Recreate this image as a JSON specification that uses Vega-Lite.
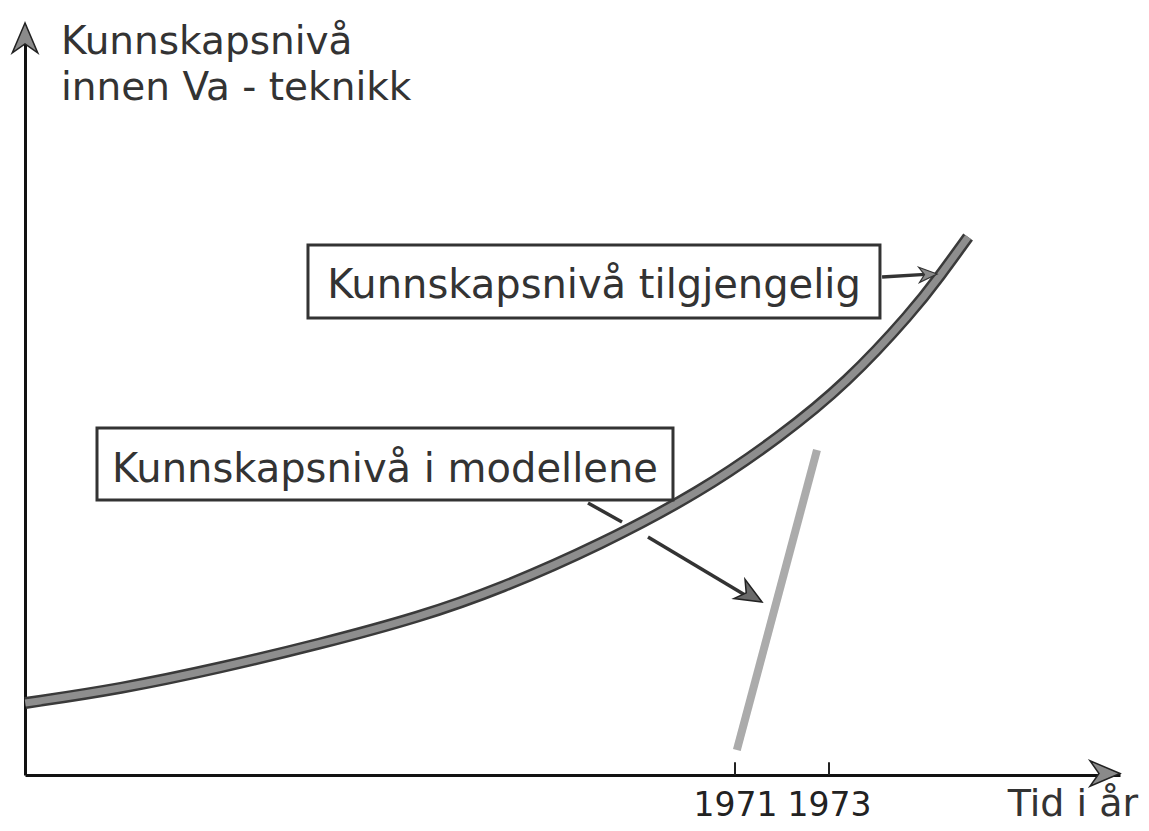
{
  "$schema": "https://vega.github.io/schema/vega-lite/v6.json",
  "width": 1095,
  "height": 750,
  "autosize": {"type": "none"},
  "padding": {"left": 25, "top": 25, "right": 29, "bottom": 56},
  "background": "white",
  "config": {"view": {"stroke": null}, "font": "DejaVu Sans"},
  "datasets": {
    "curve": [
      {"year": 1955.9, "level": 9.6},
      {"year": 1957.92, "level": 11.47},
      {"year": 1960.04, "level": 14.27},
      {"year": 1962.17, "level": 17.47},
      {"year": 1964.3, "level": 21.07},
      {"year": 1966.0, "level": 24.8},
      {"year": 1968.13, "level": 30.67},
      {"year": 1970.26, "level": 37.73},
      {"year": 1971.96, "level": 45.07},
      {"year": 1973.38, "level": 52.27},
      {"year": 1974.79, "level": 61.87},
      {"year": 1975.36, "level": 66.53},
      {"year": 1975.96, "level": 71.73}
    ],
    "models": [
      {"year": 1971.04, "level": 3.33},
      {"year": 1972.745, "level": 43.33}
    ],
    "shafts": [
      {"name": "a1", "x0": 1974.13, "y0": 66.4, "x1": 1975.05, "y1": 66.75},
      {"name": "a2a", "x0": 1967.873, "y0": 36.27, "x1": 1968.596, "y1": 33.73},
      {"name": "a2b", "x0": 1969.149, "y0": 31.73, "x1": 1971.213, "y1": 24.0}
    ],
    "boxes": [
      {"label": "Kunnskapsnivå tilgjengelig", "x0": 1961.915, "x1": 1974.085, "y0": 70.67, "y1": 60.93, "tx": 1968.0, "ty": 63.6},
      {"label": "Kunnskapsnivå i modellene", "x0": 1957.426, "x1": 1969.681, "y0": 46.27, "y1": 36.67, "tx": 1963.553, "ty": 39.07}
    ],
    "heads": [
      {"id": "y", "year": 1955.894, "level": 100.27},
      {"id": "x", "year": 1979.192, "level": 0.2},
      {"id": "a1", "year": 1975.3, "level": 66.8},
      {"id": "a2", "year": 1971.575, "level": 23.07}
    ],
    "ticks": [{"year": 1971}, {"year": 1973}],
    "titles": [
      {"text": "Kunnskapsnivå", "year": 1956.66, "level": 96.13},
      {"text": "innen Va - teknikk", "year": 1956.66, "level": 90.0}
    ],
    "xtitle": [{"text": "Tid i år", "year": 1978.19, "level": -5.5}]
  },
  "layer": [
    {
      "data": {"name": "curve"},
      "mark": {"type": "line", "color": "#3a3a3a", "strokeWidth": 12, "interpolate": "basis", "strokeCap": "butt"},
      "encoding": {
        "x": {"field": "year", "type": "quantitative",
              "scale": {"domain": [1955.894, 1979.192], "nice": false, "zero": false},
              "axis": {"values": [1971, 1973], "format": "d", "title": null, "grid": false, "ticks": false,
                       "domain": true, "domainColor": "#111", "domainWidth": 3,
                       "labelFontSize": 33, "labelColor": "#222", "labelPadding": 14, "labelFont": "DejaVu Sans"}},
        "y": {"field": "level", "type": "quantitative",
              "scale": {"domain": [0, 100], "nice": false, "zero": false},
              "axis": {"title": null, "grid": false, "ticks": false, "labels": false,
                       "domain": true, "domainColor": "#111", "domainWidth": 3}}
      }
    },
    {
      "data": {"name": "curve"},
      "mark": {"type": "line", "color": "#8e8e8e", "strokeWidth": 7, "interpolate": "basis", "strokeCap": "butt"},
      "encoding": {
        "x": {"field": "year", "type": "quantitative"},
        "y": {"field": "level", "type": "quantitative"}
      }
    },
    {
      "data": {"name": "models"},
      "mark": {"type": "line", "color": "#ababab", "strokeWidth": 8, "strokeCap": "butt"},
      "encoding": {
        "x": {"field": "year", "type": "quantitative"},
        "y": {"field": "level", "type": "quantitative"}
      }
    },
    {
      "data": {"name": "shafts"},
      "mark": {"type": "rule", "color": "#333", "strokeWidth": 3.5},
      "encoding": {
        "x": {"field": "x0", "type": "quantitative"},
        "x2": {"field": "x1"},
        "y": {"field": "y0", "type": "quantitative"},
        "y2": {"field": "y1"}
      }
    },
    {
      "data": {"name": "boxes"},
      "mark": {"type": "rect", "fill": null, "fillOpacity": 0, "stroke": "#333", "strokeWidth": 3},
      "encoding": {
        "x": {"field": "x0", "type": "quantitative"},
        "x2": {"field": "x1"},
        "y": {"field": "y0", "type": "quantitative"},
        "y2": {"field": "y1"}
      }
    },
    {
      "data": {"name": "boxes"},
      "mark": {"type": "text", "fontSize": 40, "color": "#333", "align": "center", "baseline": "alphabetic", "font": "DejaVu Sans"},
      "encoding": {
        "x": {"field": "tx", "type": "quantitative"},
        "y": {"field": "ty", "type": "quantitative"},
        "text": {"field": "label"}
      }
    },
    {
      "data": {"name": "titles"},
      "mark": {"type": "text", "fontSize": 39, "color": "#333", "align": "left", "baseline": "alphabetic", "font": "DejaVu Sans"},
      "encoding": {
        "x": {"field": "year", "type": "quantitative"},
        "y": {"field": "level", "type": "quantitative"},
        "text": {"field": "text"}
      }
    },
    {
      "data": {"name": "xtitle"},
      "mark": {"type": "text", "fontSize": 38, "color": "#333", "align": "center", "baseline": "alphabetic", "font": "DejaVu Sans"},
      "encoding": {
        "x": {"field": "year", "type": "quantitative"},
        "y": {"field": "level", "type": "quantitative"},
        "text": {"field": "text"}
      }
    },
    {
      "data": {"name": "ticks"},
      "mark": {"type": "rule", "color": "#222", "strokeWidth": 2},
      "encoding": {
        "x": {"field": "year", "type": "quantitative"},
        "y": {"datum": 0},
        "y2": {"datum": 1.7}
      }
    },
    {
      "data": {"name": "heads"},
      "transform": [{"filter": "datum.id == 'y'"}],
      "mark": {"type": "point", "shape": "M0,0L-2,-0.85L-1.4,0L-2,0.85Z", "size": 900, "angle": -90, "filled": true, "fill": "#8a8a8a", "stroke": "#222", "strokeWidth": 1.5, "opacity": 1},
      "encoding": {
        "x": {"field": "year", "type": "quantitative"},
        "y": {"field": "level", "type": "quantitative"}
      }
    },
    {
      "data": {"name": "heads"},
      "transform": [{"filter": "datum.id == 'x'"}],
      "mark": {"type": "point", "shape": "M0,0L-2,-0.85L-1.4,0L-2,0.85Z", "size": 900, "angle": 0, "filled": true, "fill": "#8a8a8a", "stroke": "#222", "strokeWidth": 1.5, "opacity": 1},
      "encoding": {
        "x": {"field": "year", "type": "quantitative"},
        "y": {"field": "level", "type": "quantitative"}
      }
    },
    {
      "data": {"name": "heads"},
      "transform": [{"filter": "datum.id == 'a1'"}],
      "mark": {"type": "point", "shape": "M0,0L-2,-0.85L-1.4,0L-2,0.85Z", "size": 324, "angle": -3, "filled": true, "fill": "#8a8a8a", "stroke": "#333", "strokeWidth": 1.2, "opacity": 1},
      "encoding": {
        "x": {"field": "year", "type": "quantitative"},
        "y": {"field": "level", "type": "quantitative"}
      }
    },
    {
      "data": {"name": "heads"},
      "transform": [{"filter": "datum.id == 'a2'"}],
      "mark": {"type": "point", "shape": "M0,0L-2,-0.85L-1.4,0L-2,0.85Z", "size": 676, "angle": 30, "filled": true, "fill": "#6a6a6a", "stroke": "#222", "strokeWidth": 1.5, "opacity": 1},
      "encoding": {
        "x": {"field": "year", "type": "quantitative"},
        "y": {"field": "level", "type": "quantitative"}
      }
    }
  ]
}
